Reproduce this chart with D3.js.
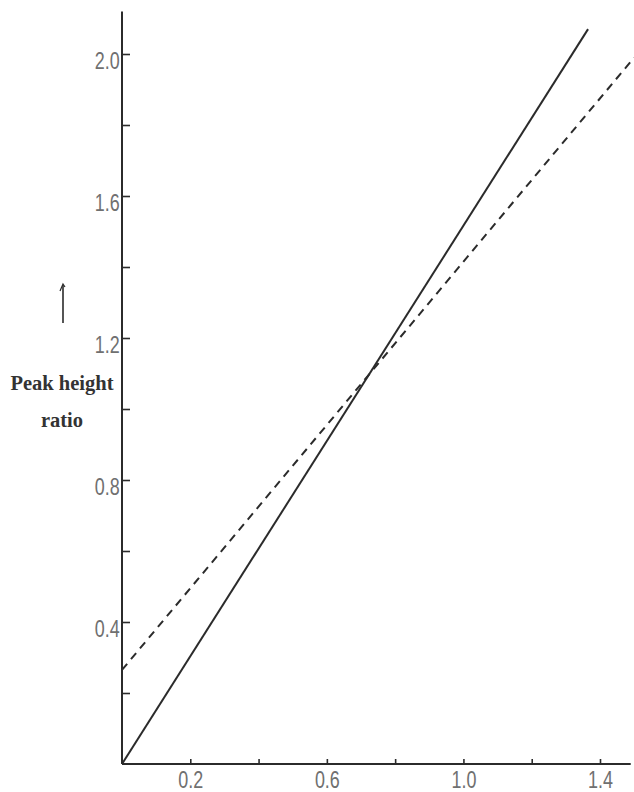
<!DOCTYPE html>
<html>
<head>
<meta charset="utf-8">
<script src="https://cdn.jsdelivr.net/npm/d3@7"></script>
<style>
  html, body { margin: 0; padding: 0; background: #fff; }
  svg { display: block; }
  .tl { font-family: "Liberation Sans", "DejaVu Sans", sans-serif; fill: #707070; font-size: 23px; }
</style>
</head>
<body>
<svg id="chart" width="634" height="792"></svg>
<script>
// ---- data ----
const xTicks = [0.2, 0.4, 0.6, 0.8, 1.0, 1.2, 1.4];
const xTickLabels = ["0.2", "", "0.6", "", "1.0", "", "1.4"];
const yTicks = [0.2, 0.4, 0.6, 0.8, 1.0, 1.2, 1.4, 1.6, 1.8, 2.0];
const yTickLabels = ["", "0.4", "", "0.8", "", "1.2", "", "1.6", "", "2.0"];
const solidX = [0, 1.365];
const solidY = [0, 2.07];
const dashedX = [0, 1.5];
const dashedY = [0.265, 1.99];
const yTitle = ["Peak height", "ratio"];

// ---- scales ----
const svg = d3.select("#chart");
const x = d3.scaleLinear().domain([0, 1.4]).range([122, 600]);
const y = d3.scaleLinear().domain([0, 2.0]).range([764, 54]);

const ink = "#2b2b2b";

// axes lines
svg.append("line").attr("x1", x(0)).attr("x2", x(1.49)).attr("y1", y(0)).attr("y2", y(0))
  .attr("stroke", ink).attr("stroke-width", 2);
svg.append("line").attr("x1", x(0)).attr("x2", x(0)).attr("y1", y(0)).attr("y2", y(2.12))
  .attr("stroke", ink).attr("stroke-width", 2);

// y axis ticks (inward) + labels
const yAxis = d3.axisLeft(y).tickValues(yTicks).tickSize(-8).tickPadding(3)
  .tickFormat((d, i) => yTickLabels[i]);
const gy = svg.append("g").attr("transform", `translate(${x(0)},0)`).call(yAxis);
gy.select(".domain").remove();
gy.selectAll(".tick line").attr("stroke", ink).attr("stroke-width", 1.6);
gy.selectAll(".tick text").attr("class", "tl").attr("font-size", null).attr("font-family", null)
  .attr("fill", null).attr("dy", "0.62em").attr("x", -3).attr("transform", "scale(0.78,1)");

// x axis ticks (inward) + labels
const xAxis = d3.axisBottom(x).tickValues(xTicks).tickSize(-5).tickPadding(10)
  .tickFormat((d, i) => xTickLabels[i]);
const gx = svg.append("g").attr("transform", `translate(0,${y(0)})`).call(xAxis);
gx.select(".domain").remove();
gx.selectAll(".tick line").attr("stroke", ink).attr("stroke-width", 1.6);
gx.selectAll(".tick text").attr("class", "tl").attr("font-size", null).attr("font-family", null)
  .attr("fill", null).attr("y", 24).attr("dy", null).attr("transform", "scale(0.78,1)");

// lines
const line = d3.line().x(d => x(d[0])).y(d => y(d[1]));
svg.append("path").datum(solidX.map((v, i) => [v, solidY[i]]))
  .attr("d", line).attr("fill", "none").attr("stroke", ink).attr("stroke-width", 2);
svg.append("path").datum(dashedX.map((v, i) => [v, dashedY[i]]))
  .attr("d", line).attr("fill", "none").attr("stroke", ink).attr("stroke-width", 2)
  .attr("stroke-dasharray", "8,6");

// y title
svg.append("text").attr("x", 62).attr("y", 390).attr("text-anchor", "middle")
  .attr("font-family", "Liberation Serif, serif").attr("font-weight", "bold")
  .attr("font-size", 20.5).attr("fill", "#333").text(yTitle[0]);
svg.append("text").attr("x", 62).attr("y", 427).attr("text-anchor", "middle")
  .attr("font-family", "Liberation Serif, serif").attr("font-weight", "bold")
  .attr("font-size", 20.5).attr("fill", "#333").text(yTitle[1]);

// arrow
svg.append("line").attr("x1", 63).attr("x2", 63).attr("y1", 323).attr("y2", 285)
  .attr("stroke", ink).attr("stroke-width", 1.6);
svg.append("path").attr("d", "M60,291 L63,284 L65,287").attr("fill", "none")
  .attr("stroke", ink).attr("stroke-width", 1.2);
</script>
</body>
</html>
